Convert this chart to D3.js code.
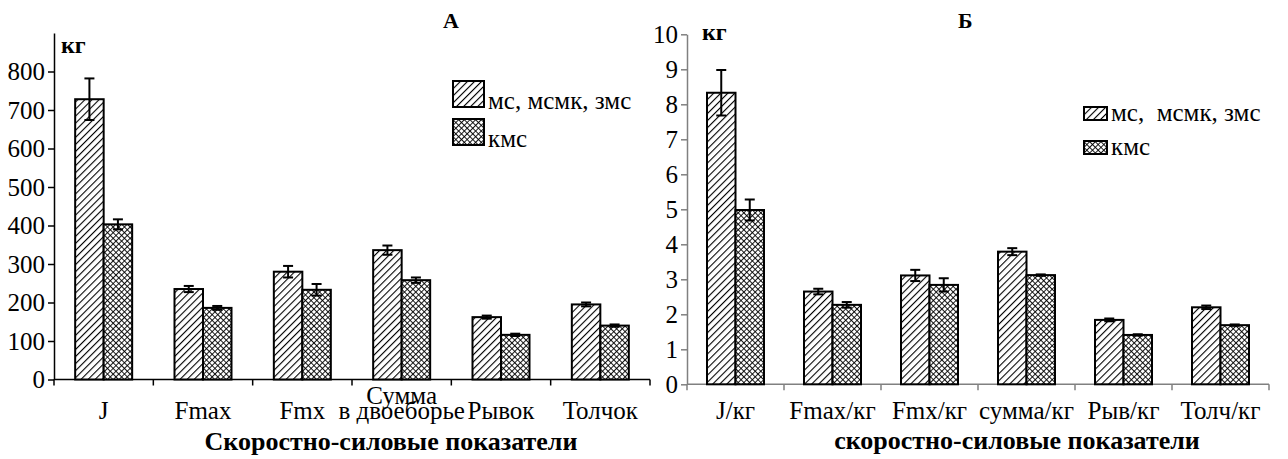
<!DOCTYPE html>
<html>
<head>
<meta charset="utf-8">
<script src="https://cdn.jsdelivr.net/npm/d3@7"></script>
<style>
body { margin: 0; background: #fff; }
svg { display: block; }
text { font-family: "Liberation Serif", "Times New Roman", serif; }
</style>
</head>
<body>
<svg width="1288" height="459"></svg>
<script>
// data, chart A (кг)
var catsA = ["J", "Fmax", "Fmx", "Сумма\nв двоеборье", "Рывок", "Толчок"];
var msA = [728, 235, 280, 336, 162, 195];
var msErrA = [54, 8, 15, 12, 4, 5];
var kmsA = [403, 186, 233, 258, 116, 140];
var kmsErrA = [13, 5, 15, 7, 3, 3];
var ticksA = [0, 100, 200, 300, 400, 500, 600, 700, 800];

// data, chart Б (кг / кг веса)
var catsB = ["J/кг", "Fmax/кг", "Fmx/кг", "сумма/кг", "Рыв/кг", "Толч/кг"];
var msB = [8.33, 2.65, 3.11, 3.79, 1.84, 2.2];
var msErrB = [0.65, 0.08, 0.16, 0.1, 0.04, 0.05];
var kmsB = [4.98, 2.27, 2.84, 3.12, 1.41, 1.69];
var kmsErrB = [0.3, 0.08, 0.19, 0.02, 0.02, 0.02];
var ticksB = [0, 1, 2, 3, 4, 5, 6, 7, 8, 9, 10];

var seriesNames = ["мс, мсмк, змс", "кмс"];

var FONT = "'Liberation Serif', 'Times New Roman', serif";
var svg = d3.select("svg");

// fill patterns
var defs = svg.append("defs");
var hatch = defs.append("pattern")
	.attr("id", "hatch")
	.attr("patternUnits", "userSpaceOnUse")
	.attr("width", 5).attr("height", 5)
	.attr("patternTransform", "rotate(45)");
hatch.append("rect").attr("width", 5).attr("height", 5).attr("fill", "#fff");
hatch.append("line")
	.attr("x1", 0).attr("y1", 0).attr("x2", 0).attr("y2", 5)
	.attr("stroke", "#000").attr("stroke-width", 2.2);

var cross = defs.append("pattern")
	.attr("id", "cross")
	.attr("patternUnits", "userSpaceOnUse")
	.attr("width", 4).attr("height", 4)
	.attr("patternTransform", "rotate(45)");
cross.append("rect").attr("width", 4).attr("height", 4).attr("fill", "#fff");
cross.append("line")
	.attr("x1", 0).attr("y1", 0).attr("x2", 0).attr("y2", 4)
	.attr("stroke", "#000").attr("stroke-width", 1.8);
cross.append("line")
	.attr("x1", 0).attr("y1", 0).attr("x2", 4).attr("y2", 0)
	.attr("stroke", "#000").attr("stroke-width", 1.8);

var drawChart = function(opt) {
	var x = d3.scaleBand().domain(opt.cats).range(opt.xRange);
	var y = d3.scaleLinear().domain(opt.yDomain).range(opt.yRange);
	var g = svg.append("g").attr("font-family", FONT);
	var axisColor = opt.axisColor;
	var barW = 28.5;

	// y axis
	var yAxis = g.append("g")
		.attr("transform", "translate(" + opt.xRange[0] + ",0)")
		.call(d3.axisLeft(y).tickValues(opt.ticks).tickSize(6).tickSizeOuter(0).tickPadding(3));
	yAxis.attr("font-family", FONT).attr("font-size", 25);
	yAxis.select(".domain").attr("stroke", axisColor).attr("stroke-width", 1.5);
	yAxis.selectAll(".tick line").attr("stroke", axisColor).attr("stroke-width", 1.5);
	yAxis.selectAll(".tick text")
		.attr("fill", "#000")
		.style("font-family", FONT)
		.style("font-size", "25px");

	// x axis line and boundary ticks
	var y0 = y(0);
	g.append("line")
		.attr("x1", opt.xRange[0]).attr("x2", opt.xRange[1])
		.attr("y1", y0).attr("y2", y0)
		.attr("stroke", axisColor).attr("stroke-width", 1.5);
	var bounds = opt.cats.map(function(c) { return x(c); }).concat([opt.xRange[1]]);
	g.selectAll(".xtick")
		.data(bounds)
		.enter()
		.append("line")
		.attr("class", "xtick")
		.attr("x1", function(d) { return d; })
		.attr("x2", function(d) { return d; })
		.attr("y1", y0).attr("y2", y0 + 6)
		.attr("stroke", axisColor).attr("stroke-width", 1.5);

	// category labels
	var lab = g.selectAll(".xlab")
		.data(opt.cats)
		.enter()
		.append("text")
		.attr("class", "xlab")
		.attr("text-anchor", "middle")
		.style("font-family", FONT)
		.style("font-size", "25px");
	lab.each(function(d) {
		var lines = d.split("\n");
		var t = d3.select(this);
		lines.forEach(function(s, i) {
			t.append("tspan")
				.attr("x", x(d) + x.bandwidth() / 2)
				.attr("y", opt.labelY - (lines.length - 1 - i) * 15)
				.text(s);
		});
	});

	// bars
	var series = [
		{vals: opt.ms, errs: opt.msErr, fill: "url(#hatch)", off: -barW},
		{vals: opt.kms, errs: opt.kmsErr, fill: "url(#cross)", off: 0}
	];
	series.forEach(function(s) {
		var c = x.bandwidth() / 2 + s.off;
		g.selectAll(null)
			.data(opt.cats)
			.enter()
			.append("rect")
			.attr("x", function(d) { return x(d) + c; })
			.attr("y", function(d, i) { return y(s.vals[i]); })
			.attr("width", barW)
			.attr("height", function(d, i) { return y0 - y(s.vals[i]); })
			.attr("fill", s.fill)
			.attr("stroke", "#000")
			.attr("stroke-width", 2);
		// error bars
		var eb = g.selectAll(null)
			.data(opt.cats)
			.enter()
			.append("g")
			.attr("transform", function(d) { return "translate(" + (x(d) + c + barW / 2) + ",0)"; });
		eb.append("line")
			.attr("y1", function(d, i) { return y(s.vals[i] + s.errs[i]); })
			.attr("y2", function(d, i) { return y(s.vals[i] - s.errs[i]); })
			.attr("stroke", "#000").attr("stroke-width", 2);
		[1, -1].forEach(function(sign) {
			eb.append("line")
				.attr("x1", -5).attr("x2", 5)
				.attr("y1", function(d, i) { return y(s.vals[i] + sign * s.errs[i]); })
				.attr("y2", function(d, i) { return y(s.vals[i] + sign * s.errs[i]); })
				.attr("stroke", "#000").attr("stroke-width", 2);
		});
	});

	// unit label, title, axis title
	g.append("text")
		.attr("x", opt.unit[0]).attr("y", opt.unit[1])
		.style("font-family", FONT)
		.style("font-size", "24px").style("font-weight", "bold")
		.text("кг");
	g.append("text")
		.attr("x", opt.title[0]).attr("y", opt.title[1])
		.style("font-family", FONT)
		.style("font-size", "22px").style("font-weight", "bold")
		.text(opt.titleText);
	g.append("text")
		.attr("x", opt.axisTitle[0]).attr("y", opt.axisTitle[1])
		.attr("text-anchor", "middle")
		.style("font-family", FONT)
		.style("font-size", "26px").style("font-weight", "bold")
		.text(opt.axisTitleText);

	// legend
	var leg = g.selectAll(".leg")
		.data(seriesNames)
		.enter()
		.append("g")
		.attr("class", "leg")
		.attr("transform", function(d, i) { return "translate(" + opt.legend.x + "," + (opt.legend.y + i * opt.legend.step) + ")"; });
	leg.append("rect")
		.attr("width", opt.legend.w).attr("height", opt.legend.h)
		.attr("fill", function(d, i) { return i == 0 ? "url(#hatch)" : "url(#cross)"; })
		.attr("stroke", "#000").attr("stroke-width", 2);
	leg.append("text")
		.attr("x", opt.legend.w + 4)
		.attr("y", opt.legend.textY)
		.style("font-family", FONT)
		.style("font-size", "25px")
		.style("white-space", "pre")
		.text(function(d, i) { return (i == 0 && opt.legend.wide) ? "мс,  мсмк, змс" : d; });
};

drawChart({
	cats: catsA, ms: msA, msErr: msErrA, kms: kmsA, kmsErr: kmsErrA, ticks: ticksA,
	xRange: [54, 650], yDomain: [0, 900], yRange: [379.5, 33],
	axisColor: "#000", labelY: 419,
	unit: [61, 53], title: [443, 28], titleText: "А",
	axisTitle: [391, 450], axisTitleText: "Скоростно-силовые показатели",
	legend: {x: 453, y: 81, step: 38, w: 31, h: 26, textY: 28, wide: false}
});

drawChart({
	cats: catsB, ms: msB, msErr: msErrB, kms: kmsB, kmsErr: kmsErrB, ticks: ticksB,
	xRange: [687, 1269], yDomain: [0, 10], yRange: [384.3, 34.3],
	axisColor: "#808080", labelY: 419,
	unit: [702, 40], title: [958, 28], titleText: "Б",
	axisTitle: [1017, 449], axisTitleText: "скоростно-силовые показатели",
	legend: {x: 1084, y: 107, step: 34, w: 23, h: 13, textY: 14, wide: true}
});
</script>
</body>
</html>
